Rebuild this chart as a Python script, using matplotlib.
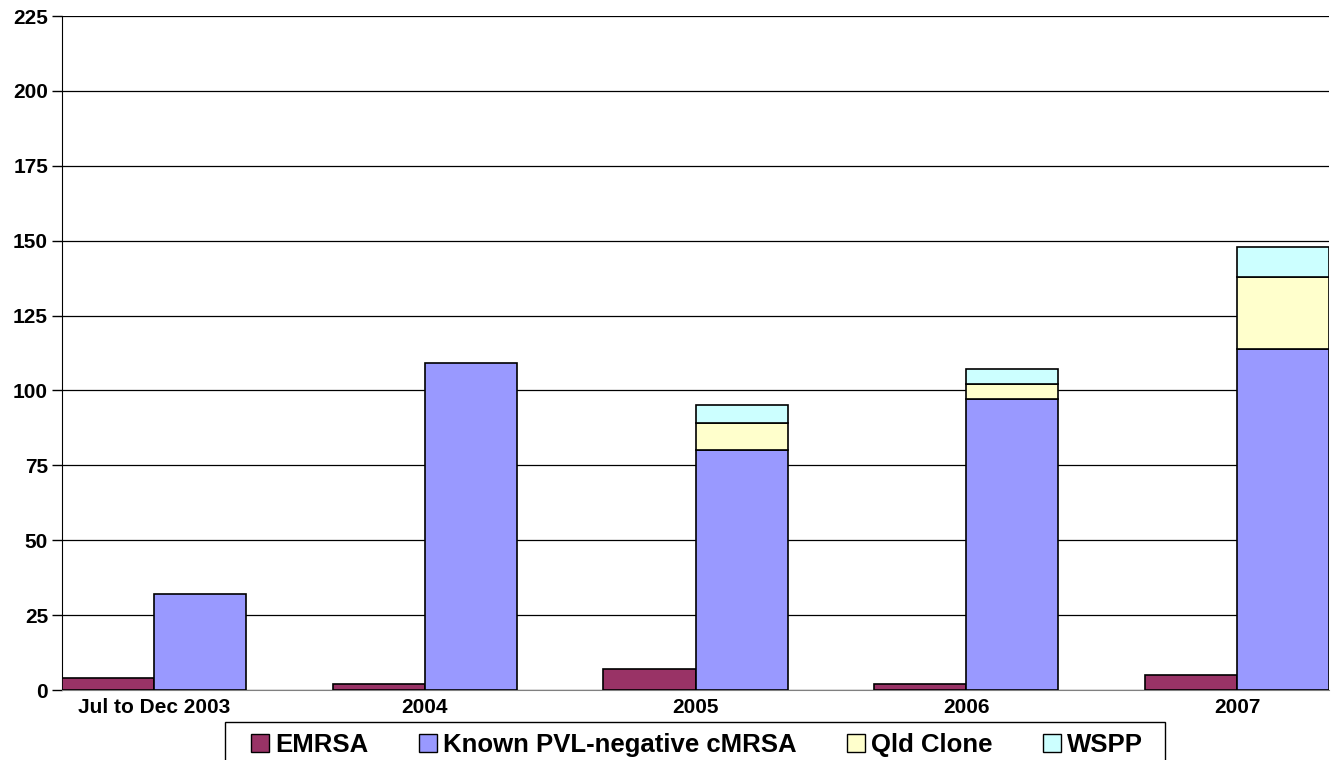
import numpy as np
import matplotlib.pyplot as plt
from matplotlib.patches import Patch, Rectangle

plt.rcParams['font.family'] = ['Liberation Sans', 'DejaVu Sans']
plt.rcParams['font.weight'] = 'bold'

# Dane
categories = ["Jul to Dec 2003", "2004", "2005", "2006", "2007"]
emrsa = [4, 2, 7, 2, 5]
pvl_neg = [32, 109, 80, 97, 114]
qld_clone = [0, 0, 9, 5, 24]
wspp = [0, 0, 6, 5, 10]

series_names = ["EMRSA", "Known PVL-negative cMRSA", "Qld Clone", "WSPP"]
colors = ["#993366", "#9999FF", "#FFFFCC", "#CCFFFF"]

W, H = 1331, 760
fig = plt.figure(figsize=(W / 100, H / 100), dpi=100)
ax = fig.add_axes([62 / W, 70 / H, 1267 / W, 674 / H])

x = np.arange(len(categories))
w = 0.34

# Slupek EMRSA osobno, reszta jako stos
ax.bar(x - w / 2, emrsa, w, color=colors[0], edgecolor="black", linewidth=1.2, zorder=3)
bottom = np.zeros(len(categories))
for vals, col in zip([pvl_neg, qld_clone, wspp], colors[1:]):
    vals = np.array(vals)
    mask = vals > 0
    ax.bar(x[mask] + w / 2, vals[mask], w, bottom=bottom[mask], color=col,
           edgecolor="black", linewidth=1.2, zorder=3)
    bottom += vals

ax.set_xlim(-w, len(categories) - 1 + w)
ax.set_ylim(0, 225)
ax.set_yticks(np.arange(0, 226, 25))
ax.set_xticks(x)
ax.set_xticklabels(categories)
ax.tick_params(axis="y", labelsize=15, length=7, width=1, pad=3, direction="out")
ax.tick_params(axis="x", labelsize=15, length=0, pad=6)
for lab in ax.get_xticklabels() + ax.get_yticklabels():
    lab.set_fontweight("bold")

ax.yaxis.grid(True, color="black", linewidth=0.9, zorder=0)
ax.set_axisbelow(True)
ax.spines["top"].set_visible(False)
ax.spines["right"].set_visible(False)
ax.spines["left"].set_color("black")
ax.spines["bottom"].set_color("#808080")

# Ramka legendy (przycieta dolna krawedzia obrazka)
fig.patches.append(Rectangle((225 / W, -0.05), (1165 - 225) / W, 0.05 + 1 - 722 / H,
                             transform=fig.transFigure, facecolor="white",
                             edgecolor="black", linewidth=1.0))

handles = [Patch(facecolor=c, edgecolor="black", label=n) for c, n in zip(colors, series_names)]
leg = fig.legend(handles=handles, loc="upper left", bbox_to_anchor=(251 / W, 1 - 733 / H),
                 ncol=4, frameon=False, borderaxespad=0, borderpad=0,
                 prop={"size": 18.5, "weight": "bold"}, handlelength=0.7, handleheight=0.7,
                 handletextpad=0.25, columnspacing=1.95)

plt.savefig("out.png", dpi=100)
